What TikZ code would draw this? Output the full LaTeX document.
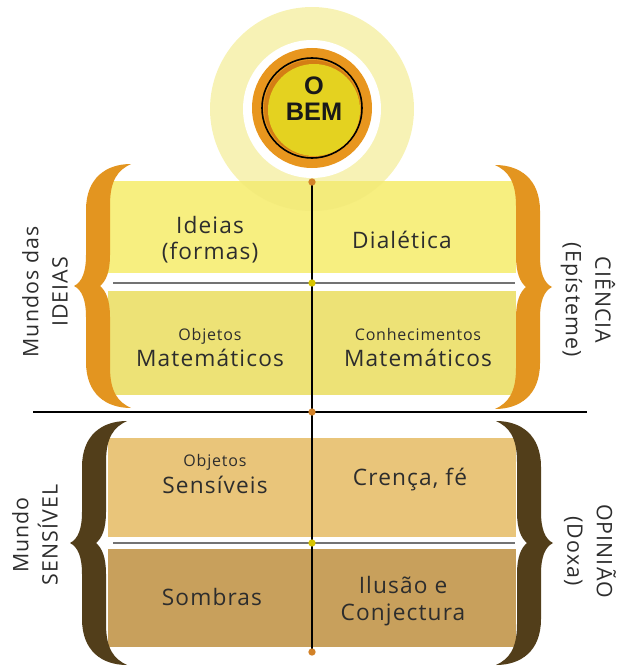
\documentclass[tikz,border=0pt]{standalone}
\usepackage{fontspec}
\setmainfont{Open Sans}
\newfontfamily\hand{Open Sans}[LetterSpace=5]
\newfontfamily\bemfont{Liberation Sans}
\definecolor{ylA}{RGB}{247,239,128}
\definecolor{ylB}{RGB}{237,226,118}
\definecolor{brA}{RGB}{233,197,122}
\definecolor{brB}{RGB}{200,160,92}
\definecolor{orBr}{RGB}{227,149,32}
\definecolor{dkBr}{RGB}{82,62,26}
\definecolor{pale}{RGB}{240,232,120}
\definecolor{ring}{RGB}{232,150,30}
\definecolor{ringdk}{RGB}{212,126,20}
\definecolor{disk}{RGB}{228,210,32}
\definecolor{txt}{RGB}{45,45,45}
\definecolor{sepgray}{RGB}{115,115,115}
\definecolor{dotOr}{RGB}{210,130,40}
\definecolor{dotYl}{RGB}{215,196,0}
\newcommand{\drawbrace}[3]{%
  \fill[#3, shift={(#1)}, xscale=#2] (0,0) .. controls (8,-4) and (12,-14) .. (12,-31) -- (12,-76)
    .. controls (12,-108) and (32,-122) .. (57,-122)
    .. controls (44,-116) and (36,-106) .. (36,-81) -- (36,-31)
    .. controls (36,-14) and (32,-5) .. (26,0)
    .. controls (32,5) and (36,14) .. (36,31) -- (36,81)
    .. controls (36,106) and (44,116) .. (57,122)
    .. controls (32,122) and (12,108) .. (12,76) -- (12,31)
    .. controls (12,14) and (8,4) .. (0,0) -- cycle;}
\begin{document}
\begin{tikzpicture}[x=0.75pt,y=-0.75pt,
  big/.style={font=\hand\fontsize{17}{21}\selectfont, text=txt, anchor=base, inner sep=0pt},
  small/.style={font=\hand\fontsize{12}{14}\selectfont, text=txt, anchor=base, inner sep=0pt},
  side/.style={font=\hand\fontsize{16}{22}\selectfont, text=txt, align=center, inner sep=0pt},
  bem/.style={font=\bemfont\bfseries\fontsize{19}{19}\selectfont, text=black!90, anchor=base, inner sep=0pt},
  dot/.style={circle, inner sep=0pt, minimum size=5.5pt},
  sep/.style={draw=sepgray, line width=1.6pt},
  axis/.style={draw=black, line width=1.5pt}]
\useasboundingbox (0,0) rectangle (618,667);
% cells
\fill[ylA] (108,181) rectangle (516,273);
\fill[ylB] (108,291) rectangle (516,395);
\fill[brA] (108,438) rectangle (516,537);
\fill[brB] (108,549) rectangle (516,647);
% halo and medallion
\fill[pale, fill opacity=0.55] (312,109) circle (102);
\fill[white] (312,109) circle (69);
\fill[ring] (312,108) circle (60);
\draw[black, line width=1.2pt] (312,108) circle (50);
\fill[ringdk] (312,108) circle (48);
\fill[disk] (314,110) circle (46);
\node[bem] (bemO) at (314,94) {O};
\node[bem] (bemB) at (314,120) {BEM};
% separators
\coordinate (s1l) at (113,283); \coordinate (s1r) at (515,283);
\coordinate (s2l) at (113,543); \coordinate (s2r) at (515,543);
\draw[sep] (s1l) -- (s1r);
\draw[sep] (s2l) -- (s2r);
% axes
\coordinate (hl) at (33,412); \coordinate (hr) at (587,412);
\draw[axis] (hl) -- (hr);
\coordinate (p1) at (312,182); \coordinate (p2) at (312,283);
\coordinate (p3) at (312,412); \coordinate (p4) at (312,543);
\coordinate (p5) at (312,652);
\draw[axis] (p1) -- (p5);
\node[dot, fill=dotOr] (d1) at (p1) {};
\node[dot, fill=dotYl] (d2) at (p2) {};
\node[dot, fill=dotOr] (d3) at (p3) {};
\node[dot, fill=dotYl] (d4) at (p4) {};
\node[dot, fill=dotOr] (d5) at (p5) {};
% braces
\drawbrace{74,286}{1}{orBr}
\drawbrace{552,287}{-1}{orBr}
\drawbrace{70,543}{1}{dkBr}
\drawbrace{553,543}{-1}{dkBr}
% cell texts
\node[big] (t1a) at (210,233) {Ideias};
\node[big] (t1b) at (210,259) {(formas)};
\node[big] (t2) at (402,248) {Dialética};
\node[small] (t3a) at (210,340) {Objetos};
\node[big] (t3b) at (210,366) {Matemáticos};
\node[small] (t4a) at (418,340) {Conhecimentos};
\node[big] (t4b) at (418,366) {Matemáticos};
\node[small] (t5a) at (215,466) {Objetos};
\node[big] (t5b) at (215,493) {Sensíveis};
\node[big] (t6) at (410,485) {Crença, fé};
\node[big] (t7) at (212,605) {Sombras};
\node[big] (t8a) at (403,593) {Ilusão e};
\node[big] (t8b) at (403,620) {Conjectura};
% side labels
\node[side, rotate=90] (lt) at (45,292) {Mundos das\\IDEIAS};
\node[side, rotate=-90] (rt) at (588,300) {CIÊNCIA\\(Epísteme)};
\node[side, rotate=90] (lb) at (35,535) {Mundo\\SENSÍVEL};
\node[side, rotate=-90] (rb) at (590,551) {OPINIÃO\\(Doxa)};
\end{tikzpicture}
\end{document}
